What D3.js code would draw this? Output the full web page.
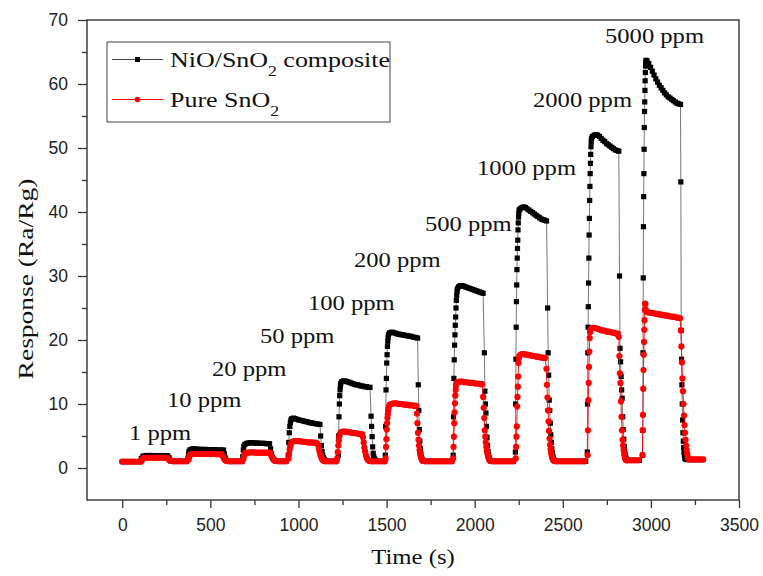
<!DOCTYPE html>
<html>
<head>
<meta charset="utf-8">
<script src="https://cdn.jsdelivr.net/npm/d3@7"></script>
<style>
  body { margin: 0; background: #fff; }
  svg { display: block; }
</style>
</head>
<body>
<main></main>
<script>
// segments are [start time (s), sample step (s), [response values]]
let compositeSegments = [
  [0, 15, [1.0, 1.0, 1.0, 1.0, 1.0, 1.0, 1.0, 1.0]],
  // 1 ppm
  [108, 10, [1.5, 1.85, 1.9, 1.95, 1.95, 1.95, 1.95, 1.9, 1.9, 1.9, 1.9, 1.9, 1.9, 1.9, 1.9, 1.9]],
  [266, 4, [1.6, 1.3, 1.15, 1.1]],
  [290, 15, [1.05, 1.05, 1.05, 1.05, 1.05, 1.05]],
  // 10 ppm
  [373, 3, [1.5, 2.2, 2.6]],
  [385, 10, [2.85, 2.95, 3.0, 2.95, 2.95, 2.9, 2.9, 2.9, 2.9, 2.9, 2.85, 2.85, 2.85, 2.85, 2.85, 2.8, 2.8, 2.8, 2.8, 2.8]],
  [580, 4, [2.2, 1.6, 1.3, 1.15]],
  [605, 15, [1.05, 1.05, 1.05, 1.05, 1.05, 1.05]],
  // 20 ppm
  [684, 3, [1.8, 2.8, 3.4]],
  [696, 10, [3.7, 3.85, 3.9, 3.95, 3.95, 3.9, 3.9, 3.9, 3.85, 3.85, 3.85, 3.85, 3.8, 3.8, 3.8]],
  [842, 5, [3.0, 2.2, 1.7, 1.4, 1.25, 1.15, 1.1]],
  [885, 15, [1.05, 1.05, 1.05, 1.05]],
  // 50 ppm
  [942, 3, [2.0, 4.0, 5.5, 6.5, 7.1, 7.5]],
  [962, 10, [7.7, 7.8, 7.7, 7.6, 7.5, 7.45, 7.4, 7.3, 7.25, 7.2, 7.1, 7.05, 7.0, 6.95, 6.9, 6.85, 6.8]],
  [1126, 4, [5.0, 3.5, 2.6, 2.0, 1.6, 1.35, 1.2, 1.1]],
  [1165, 15, [1.05, 1.05, 1.05, 1.05]],
  // 100 ppm
  [1226, 2, [2.0, 5.0, 8.0, 10.0, 11.3, 12.2, 12.8, 13.2]],
  [1246, 10, [13.5, 13.6, 13.6, 13.5, 13.4, 13.3, 13.2, 13.1, 13.0, 13.0, 12.9, 12.8, 12.8, 12.7, 12.7, 12.6, 12.6]],
  [1412, 3, [8.1, 6.5, 4.9, 3.3, 2.3, 1.8, 1.5, 1.3, 1.2, 1.1]],
  [1450, 15, [1.05, 1.05, 1.05]],
  // 200 ppm
  [1493, 2, [2.0, 6.5, 12.2, 14.0, 16.4, 17.7, 19.0, 19.8, 20.4, 20.8]],
  [1516, 10, [21.1, 21.2, 21.2, 21.1, 21.0, 20.9, 20.9, 20.8, 20.8, 20.7, 20.7, 20.6, 20.6, 20.5, 20.4, 20.4, 20.3]],
  [1680, 3, [13.0, 9.0, 6.0, 4.2, 3.0, 2.2, 1.7, 1.4, 1.25, 1.15]],
  [1720, 15, [1.05, 1.05, 1.05, 1.05, 1.05, 1.05, 1.05, 1.05, 1.05, 1.05, 1.05]],
  // 500 ppm
  [1878, 2, [2.0, 8.0, 14.0, 16.9, 19.2, 20.8, 22.3, 23.6, 25.0, 26.2, 27.0, 27.6, 28.0]],
  [1908, 10, [28.3, 28.5, 28.5, 28.4, 28.3, 28.2, 28.1, 28.0, 27.9, 27.8, 27.7, 27.6, 27.5, 27.4, 27.3]],
  [2055, 3, [18.0, 12.0, 10.0, 8.6, 6.5, 4.8, 3.5, 2.6, 2.0, 1.6, 1.35, 1.2, 1.1]],
  [2100, 15, [1.05, 1.05, 1.05, 1.05, 1.05, 1.05, 1.05, 1.05, 1.05]],
  // 1000 ppm
  [2231, 1.5, [2.5, 10.0, 17.0, 22.0, 26.0, 28.6, 31.0, 32.8, 34.3, 35.6, 37.2, 38.3, 39.2, 39.8, 40.3]],
  [2258, 10, [40.5, 40.7, 40.8, 40.7, 40.5, 40.3, 40.1, 39.9, 39.7, 39.5, 39.3, 39.1, 38.9, 38.8, 38.7, 38.6]],
  [2414, 3, [25.0, 18.0, 14.5, 10.6, 9.0, 7.0, 5.2, 4.0, 3.0, 2.3, 1.8, 1.5, 1.3, 1.15]],
  [2465, 15, [1.05, 1.05, 1.05, 1.05, 1.05, 1.05, 1.05, 1.05, 1.05, 1.05, 1.05, 1.05]],
  // 2000 ppm
  [2639, 1.5, [2.5, 10.0, 18.0, 22.0, 25.2, 28.9, 32.8, 36.4, 39.0, 41.8, 44.0, 46.0, 47.6, 49.0, 50.2, 51.0, 51.5]],
  [2668, 10, [51.8, 52.0, 52.1, 52.0, 51.8, 51.5, 51.2, 51.0, 50.7, 50.5, 50.3, 50.1, 49.9, 49.7, 49.6, 49.5]],
  [2822, 3, [30.0, 18.7, 16.6, 14.3, 12.2, 10.9, 8.0, 6.0, 4.5, 3.4, 2.6, 2.0, 1.6, 1.4, 1.25]],
  [2875, 15, [1.2, 1.2, 1.2, 1.2, 1.2]],
  // 5000 ppm
  [2953, 1.2, [2.0, 5.9, 18.0, 29.7, 37.7, 42.4, 46.0, 49.8, 53.2, 55.7, 57.2, 59.0, 60.5, 61.8, 62.8, 63.4, 63.7]],
  [2978, 10, [63.6, 63.2, 62.6, 62.0, 61.4, 60.8, 60.3, 59.8, 59.4, 59.0, 58.6, 58.3, 58.0, 57.8, 57.6, 57.4, 57.2, 57.0, 56.9, 56.8]],
  [3170, 2, [44.7, 21.5, 17.0, 13.0, 10.0, 7.5, 5.5, 4.2, 3.2, 2.5, 2.0, 1.7, 1.5, 1.4]],
  [3205, 15, [1.3, 1.3, 1.3, 1.3, 1.3, 1.3, 1.3]]
];

let pureSegments = [
  [0, 15, [1.0, 1.0, 1.0, 1.0, 1.0, 1.0, 1.0, 1.0]],
  // 1 ppm
  [112, 4, [1.2, 1.4, 1.5]],
  [126, 10, [1.6, 1.6, 1.6, 1.6, 1.6, 1.6, 1.6, 1.6, 1.6, 1.6, 1.6, 1.6, 1.6, 1.6]],
  [262, 5, [1.4, 1.25, 1.15, 1.1]],
  [290, 15, [1.05, 1.05, 1.05, 1.05, 1.05, 1.05]],
  // 10 ppm
  [376, 4, [1.3, 1.7, 2.0, 2.1]],
  [394, 10, [2.15, 2.2, 2.2, 2.2, 2.2, 2.2, 2.2, 2.2, 2.2, 2.2, 2.2, 2.2, 2.2, 2.2, 2.15, 2.15, 2.15, 2.15]],
  [572, 5, [1.8, 1.5, 1.3, 1.2, 1.1]],
  [605, 15, [1.05, 1.05, 1.05, 1.05, 1.05, 1.05]],
  // 20 ppm
  [688, 4, [1.4, 1.9, 2.2, 2.35]],
  [706, 10, [2.4, 2.4, 2.45, 2.45, 2.45, 2.4, 2.4, 2.4, 2.4, 2.4, 2.4, 2.4, 2.4, 2.4]],
  [842, 5, [2.2, 1.9, 1.6, 1.4, 1.25, 1.15, 1.1]],
  [885, 15, [1.05, 1.05, 1.05, 1.05]],
  // 50 ppm
  [944, 3, [1.5, 2.2, 2.9, 3.4, 3.7, 3.9]],
  [965, 10, [4.1, 4.2, 4.2, 4.2, 4.2, 4.15, 4.1, 4.1, 4.05, 4.0, 4.0, 4.0, 3.95, 3.95, 3.9]],
  [1112, 4, [3.5, 3.0, 2.5, 2.1, 1.8, 1.5, 1.3, 1.2, 1.1]],
  [1155, 15, [1.05, 1.05, 1.05, 1.05, 1.05]],
  // 100 ppm
  [1220, 3, [1.5, 2.5, 3.5, 4.3, 4.9, 5.3]],
  [1241, 10, [5.6, 5.7, 5.7, 5.7, 5.6, 5.6, 5.5, 5.5, 5.45, 5.4, 5.35, 5.3, 5.3]],
  [1366, 4, [4.8, 4.0, 3.2, 2.6, 2.1, 1.7, 1.45, 1.3, 1.2, 1.1]],
  [1415, 15, [1.05, 1.05, 1.05, 1.05, 1.05, 1.05]],
  // 200 ppm
  [1495, 2, [1.5, 3.3, 4.5, 6.0, 7.0, 7.8, 8.4, 8.9, 9.3, 9.6]],
  [1518, 10, [9.9, 10.0, 10.1, 10.1, 10.1, 10.0, 10.0, 10.0, 9.9, 9.9, 9.9, 9.8, 9.8, 9.8, 9.7, 9.7]],
  [1672, 3, [8.5, 7.0, 5.5, 4.4, 3.5, 2.8, 2.3, 1.9, 1.6, 1.4, 1.25, 1.15, 1.1]],
  [1720, 15, [1.05, 1.05, 1.05, 1.05, 1.05, 1.05, 1.05, 1.05, 1.05, 1.05, 1.05]],
  // 500 ppm
  [1878, 2, [1.5, 3.3, 4.9, 7.0, 8.7, 10.1, 11.3, 12.2, 12.8, 13.2]],
  [1902, 10, [13.4, 13.5, 13.5, 13.5, 13.4, 13.4, 13.4, 13.3, 13.3, 13.3, 13.2, 13.2, 13.2, 13.1, 13.1]],
  [2048, 3, [11.1, 9.4, 7.8, 5.9, 4.9, 4.0, 3.3, 2.7, 2.3, 1.9, 1.6, 1.4, 1.25, 1.15]],
  [2100, 15, [1.05, 1.05, 1.05, 1.05, 1.05, 1.05, 1.05, 1.05, 1.05]],
  // 1000 ppm
  [2233, 2, [1.5, 3.3, 4.9, 6.5, 9.6, 11.1, 12.7, 14.3, 16.4, 17.1, 17.5]],
  [2260, 10, [17.7, 17.8, 17.8, 17.7, 17.7, 17.6, 17.6, 17.5, 17.5, 17.4, 17.4, 17.3, 17.3, 17.2, 17.2]],
  [2407, 3, [15.5, 13.0, 11.0, 9.0, 7.3, 5.8, 4.6, 3.6, 2.9, 2.3, 1.9, 1.6, 1.4, 1.25, 1.15]],
  [2460, 15, [1.05, 1.05, 1.05, 1.05, 1.05, 1.05, 1.05, 1.05, 1.05, 1.05, 1.05, 1.05]],
  // 2000 ppm
  [2641, 2, [2.0, 5.9, 10.6, 13.3, 15.8, 18.2, 20.3, 21.2, 21.6]],
  [2662, 10, [21.8, 21.9, 21.9, 21.8, 21.7, 21.6, 21.5, 21.5, 21.4, 21.3, 21.3, 21.2, 21.2, 21.1, 21.0, 21.0]],
  [2818, 3, [20.5, 17.5, 14.8, 13.3, 10.4, 8.0, 5.9, 4.4, 3.5, 2.8, 2.2, 1.8, 1.5, 1.3, 1.2]],
  [2870, 15, [1.2, 1.2, 1.2, 1.2, 1.2]],
  // 5000 ppm
  [2952, 1.5, [2.0, 5.9, 8.3, 12.4, 15.3, 17.7, 19.7, 21.6, 23.1, 24.7, 25.7, 25.6, 24.8]],
  [2976, 10, [24.4, 24.3, 24.3, 24.2, 24.2, 24.1, 24.1, 24.0, 24.0, 23.9, 23.9, 23.8, 23.8, 23.7, 23.7, 23.6, 23.6, 23.5, 23.5, 23.4]],
  [3170, 3, [21.5, 19.0, 16.5, 14.0, 12.0, 10.0, 8.2, 6.7, 5.5, 4.4, 3.5, 2.8, 2.2, 1.8, 1.5, 1.35]],
  [3225, 12, [1.35, 1.35, 1.35, 1.35, 1.35, 1.35, 1.35]]
];

let concentrationLabels = ['1 ppm', '10 ppm', '20 ppm', '50 ppm', '100 ppm',
  '200 ppm', '500 ppm', '1000 ppm', '2000 ppm', '5000 ppm'];

let xMajorTicks = [0, 500, 1000, 1500, 2000, 2500, 3000, 3500];
let xMinorTicks = [250, 750, 1250, 1750, 2250, 2750, 3250];
let yMajorTicks = [0, 10, 20, 30, 40, 50, 60, 70];
let yMinorTicks = [5, 15, 25, 35, 45, 55, 65];

// where each concentration label sits (pixels: left x, baseline y)
let labelSpots = [[129, 440], [167, 407], [212, 376], [260, 343], [308, 310],
  [354, 267], [425, 231], [477, 175], [533, 107], [605, 43]];

let width = 763;
let height = 576;
let plot = { left: 87, right: 739, top: 20, bottom: 500 };

let serif = '"Liberation Serif", "Times New Roman", serif';
let sans = '"Liberation Sans", Arial, sans-serif';

function expand(segments) {
  return segments.flatMap(([t0, dt, values]) =>
    values.map((v, i) => ({ t: t0 + i * dt, v: v })));
}

let composite = expand(compositeSegments);
let pure = expand(pureSegments);

let svg = d3.select('main')
  .append('svg')
  .attr('width', width)
  .attr('height', height);

let x = d3.scaleLinear().domain([-200, 3500]).range([plot.left, plot.right]);
let y = d3.scaleLinear().domain([-5, 70]).range([plot.bottom, plot.top]);

// axes
svg.append('g')
  .attr('transform', `translate(0,${plot.bottom})`)
  .call(d3.axisBottom(x).tickValues(xMajorTicks).tickSize(8).tickPadding(11).tickFormat(d3.format('d')));
svg.append('g')
  .attr('transform', `translate(0,${plot.bottom})`)
  .call(d3.axisBottom(x).tickValues(xMinorTicks).tickSize(5).tickFormat(''));
svg.append('g')
  .attr('transform', `translate(${plot.left},0)`)
  .call(d3.axisLeft(y).tickValues(yMajorTicks).tickSize(9).tickPadding(10));
svg.append('g')
  .attr('transform', `translate(${plot.left},0)`)
  .call(d3.axisLeft(y).tickValues(yMinorTicks).tickSize(5).tickFormat(''));

svg.selectAll('.domain').remove();
svg.selectAll('.tick line').attr('stroke', '#333').attr('stroke-width', 1.3);
svg.selectAll('.tick text')
  .attr('fill', '#222')
  .style('font-family', sans)
  .style('font-size', '17.5px');

svg.append('rect')
  .attr('x', plot.left)
  .attr('y', plot.top)
  .attr('width', plot.right - plot.left)
  .attr('height', plot.bottom - plot.top)
  .attr('fill', 'none')
  .attr('stroke', '#333')
  .attr('stroke-width', 1.4);

// series
let line = d3.line().x(d => x(d.t)).y(d => y(d.v));

let blackSeries = svg.append('g');
blackSeries.append('path')
  .datum(composite)
  .attr('d', line)
  .attr('fill', 'none')
  .attr('stroke', '#666')
  .attr('stroke-width', 0.9);
blackSeries.selectAll('rect')
  .data(composite)
  .enter().append('rect')
  .attr('x', d => x(d.t) - 2.6)
  .attr('y', d => y(d.v) - 2.6)
  .attr('width', 5.2)
  .attr('height', 5.2)
  .attr('fill', '#000');

let redSeries = svg.append('g');
redSeries.append('path')
  .datum(pure)
  .attr('d', line)
  .attr('fill', 'none')
  .attr('stroke', '#f00')
  .attr('stroke-width', 0.9);
redSeries.selectAll('circle')
  .data(pure)
  .enter().append('circle')
  .attr('cx', d => x(d.t))
  .attr('cy', d => y(d.v))
  .attr('r', 3.1)
  .attr('fill', '#f00');

// serif texts in the figure are drawn wider than regular Times
function wideText(px, py, size, sx, rotate) {
  return svg.append('text')
    .attr('transform', `translate(${px},${py})${rotate ? ' rotate(-90)' : ''} scale(${sx},1)`)
    .style('font-family', serif)
    .style('font-size', size + 'px')
    .attr('fill', '#111');
}

concentrationLabels.forEach((label, i) => {
  wideText(labelSpots[i][0], labelSpots[i][1], 20, 1.23).text(label);
});

wideText(413, 564, 21, 1.18).attr('text-anchor', 'middle').text('Time (s)');
wideText(33, 279, 22, 1.25, true).attr('text-anchor', 'middle').text('Response (Ra/Rg)');

// legend
let legend = svg.append('g');
legend.append('rect')
  .attr('x', 107).attr('y', 42)
  .attr('width', 283).attr('height', 80)
  .attr('fill', '#fff')
  .attr('stroke', '#444')
  .attr('stroke-width', 1);

legend.append('line')
  .attr('x1', 112).attr('x2', 163).attr('y1', 59.5).attr('y2', 59.5)
  .attr('stroke', '#444').attr('stroke-width', 1);
legend.append('rect')
  .attr('x', 135).attr('y', 57).attr('width', 5).attr('height', 5)
  .attr('fill', '#000');
legend.append('line')
  .attr('x1', 112).attr('x2', 163).attr('y1', 99.5).attr('y2', 99.5)
  .attr('stroke', '#f00').attr('stroke-width', 1);
legend.append('circle')
  .attr('cx', 137.5).attr('cy', 99.5).attr('r', 2.8)
  .attr('fill', '#f00');

let t1 = wideText(170, 67, 22, 1.18);
t1.append('tspan').text('NiO/SnO');
t1.append('tspan').attr('dy', 9).style('font-size', '15px').text('2');
t1.append('tspan').attr('dy', -9).text(' composite');

let t2 = wideText(170, 107, 22, 1.18);
t2.append('tspan').text('Pure SnO');
t2.append('tspan').attr('dy', 9).style('font-size', '15px').text('2');
</script>
</body>
</html>
